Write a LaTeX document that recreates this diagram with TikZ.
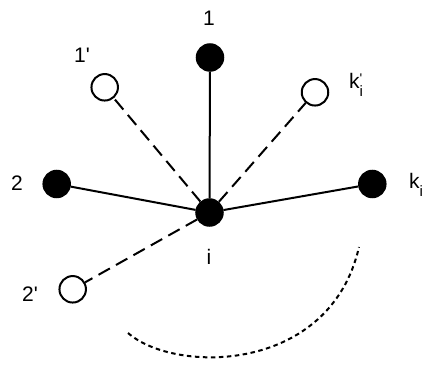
\documentclass[tikz,border=0pt]{standalone}
\usepackage{fontspec}
\newfontfamily\lbfont{Liberation Sans}
\begin{document}
\begin{tikzpicture}[x=1pt,y=1pt,
  full/.style={circle,fill=black,draw=black,line width=2pt,minimum size=26.5pt,inner sep=0pt},
  open/.style={circle,fill=white,draw=black,line width=2pt,minimum size=26.5pt,inner sep=0pt},
  lbl/.style={font=\lbfont\fontsize{21}{23}\selectfont,inner sep=0pt},
  solidedge/.style={line width=2pt},
  dashedge/.style={line width=2pt,dash pattern=on 13pt off 7pt},
  dotedge/.style={line width=2pt,dash pattern=on 4.5pt off 3.5pt}]
\useasboundingbox (0,0) rectangle (425,369);
\node[full] (i) at (209.5,156.5) {};
\node[full] (n1) at (210,311.5) {};
\node[open] (n1p) at (104.7,281.7) {};
\node[open] (nkp) at (315,276.7) {};
\node[full] (n2) at (56.7,185) {};
\node[full] (nk) at (372.3,185) {};
\node[open] (n2p) at (72.7,79.7) {};
\draw[solidedge] (i) -- (n1);
\draw[solidedge] (i) -- (n2);
\draw[solidedge] (i) -- (nk);
\draw[dashedge] (i) -- (n1p);
\draw[dashedge] (i) -- (nkp);
\draw[dashedge] (i) -- (n2p);
\node[lbl] (l1) at (209,351) {1};
\node[lbl] (l1p) at (82,314) {1'};
\node[lbl,anchor=west] (lkp) at (349,284) {k\makebox[0pt][l]{\raisebox{0.45ex}{\fontsize{14}{14}\selectfont '}}\raisebox{-0.7ex}{\fontsize{15}{15}\selectfont i}};
\node[lbl] (l2) at (17,186) {2};
\node[lbl,anchor=west] (lk) at (409,184) {k\raisebox{-0.7ex}{\fontsize{15}{15}\selectfont i}};
\node[lbl] (li) at (209,112) {i};
\node[lbl] (l2p) at (30,75) {2'};
\coordinate (ca) at (128,36);
\coordinate (cb) at (359,122);
\draw[dotedge] (ca) .. controls (175,-5) and (330,-5) .. (cb);
\end{tikzpicture}
\end{document}
